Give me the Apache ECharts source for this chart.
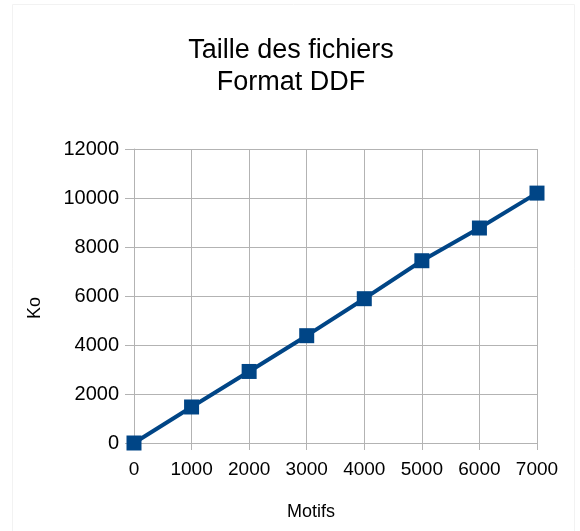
<!DOCTYPE html>
<html>
<head>
<meta charset="utf-8">
<script src="https://cdn.jsdelivr.net/npm/echarts@6/dist/echarts.min.js"></script>
<style>
  html, body { margin: 0; padding: 0; background: #fff; }
  #chart { width: 580px; height: 531px; }
</style>
</head>
<body>
<div id="chart"></div>
<script>
// données
var motifs = [0, 1000, 2000, 3000, 4000, 5000, 6000, 7000];
var tailleKo = [0, 1470, 2920, 4380, 5890, 7440, 8775, 10200];

var chartDom = document.getElementById('chart');
var myChart = echarts.init(chartDom);
var font = 'Liberation Sans, Arial, sans-serif';
var gris = '#b3b3b3';

var option = {
  backgroundColor: '#fff',
  textStyle: { fontFamily: font },
  // cadre très clair autour du graphique
  graphic: [
    {
      type: 'rect',
      shape: { x: 12.5, y: 4.5, width: 562, height: 540 },
      style: { fill: 'none', stroke: '#f2f2f2', lineWidth: 1 },
      silent: true,
      z: -1
    }
  ],
  title: {
    text: 'Taille des fichiers\nFormat DDF',
    left: 286,
    top: 30,
    textAlign: 'center',
    textStyle: {
      fontFamily: font,
      fontSize: 27,
      fontWeight: 'normal',
      color: '#000',
      lineHeight: 32
    }
  },
  grid: {
    left: 134,
    right: 43,
    top: 149,
    bottom: 88,
    containLabel: false
  },
  xAxis: {
    type: 'value',
    min: 0,
    max: 7000,
    interval: 1000,
    name: 'Motifs',
    nameLocation: 'middle',
    nameGap: 60,
    nameTextStyle: { fontSize: 18, color: '#000', padding: [0, 49, 0, 0] },
    axisLine: { show: true, lineStyle: { color: gris, width: 1 } },
    axisTick: { show: true, length: 7, lineStyle: { color: gris } },
    axisLabel: { fontSize: 19, color: '#000', margin: 17, formatter: function (v) { return String(v); } },
    splitLine: { show: true, lineStyle: { color: gris, width: 1 } }
  },
  yAxis: {
    type: 'value',
    min: 0,
    max: 12000,
    interval: 2000,
    name: 'Ko',
    nameLocation: 'middle',
    nameGap: 90,
    nameTextStyle: { fontSize: 18, color: '#000', padding: [0, 24, 0, 0] },
    axisLine: { show: true, lineStyle: { color: gris, width: 1 } },
    axisTick: { show: true, length: 9, lineStyle: { color: gris } },
    axisLabel: { fontSize: 20, color: '#000', margin: 15, formatter: function (v) { return String(v); } },
    splitLine: { show: true, lineStyle: { color: gris, width: 1 } }
  },
  series: [
    {
      name: 'Taille',
      type: 'line',
      data: motifs.map(function (m, i) { return [m, tailleKo[i]]; }),
      symbol: 'rect',
      symbolSize: 15,
      lineStyle: { color: '#004586', width: 4 },
      itemStyle: { color: '#004586' },
      animation: false
    }
  ]
};

option && myChart.setOption(option);
</script>
</body>
</html>
